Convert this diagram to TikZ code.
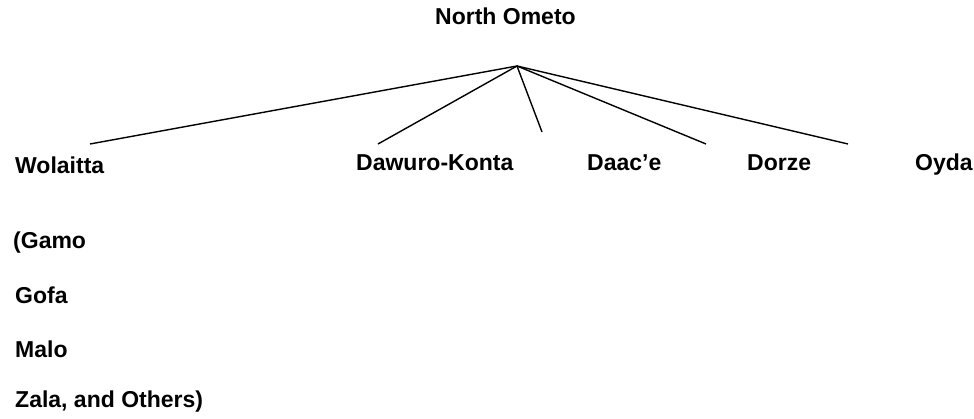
\documentclass[tikz,border=0pt]{standalone}
\usepackage{fontspec}
\setmainfont{Liberation Sans}
\usetikzlibrary{positioning}

\begin{document}
\begin{tikzpicture}[
  x=1pt, y=-1pt,
  lang/.style={anchor=base west, inner sep=0pt, font=\fontsize{23}{27}\selectfont\bfseries},
  branch/.style={line width=1.4pt}
]
\useasboundingbox (0,0) rectangle (974,419);

\node[lang] (north) at (435,25) {North Ometo};
\coordinate (top) at (517,66);

\node[lang] (wolaitta) at (15,174) {Wolaitta};
\node[lang] (dawuro) at (356,171) {Dawuro-Konta};
\node[lang] (daace) at (587,171) {Daac’e};
\node[lang] (dorze) at (747,171) {Dorze};
\node[lang] (oyda) at (915,171) {Oyda};

\node[lang] (gamo) at (13,249) {(Gamo};
\node[lang] (gofa) at (15,304) {Gofa};
\node[lang] (malo) at (15,358) {Malo};
\node[lang] (zala) at (15,407) {Zala, and Others)};

\coordinate (wolaitta-end) at (90,144);
\coordinate (dawuro-end) at (378,144);
\coordinate (daace-end) at (542,132);
\coordinate (dorze-end) at (706,144);
\coordinate (oyda-end) at (848,144);

\draw[branch] (top) -- (wolaitta-end);
\draw[branch] (top) -- (dawuro-end);
\draw[branch] (top) -- (daace-end);
\draw[branch] (top) -- (dorze-end);
\draw[branch] (top) -- (oyda-end);
\end{tikzpicture}
\end{document}
